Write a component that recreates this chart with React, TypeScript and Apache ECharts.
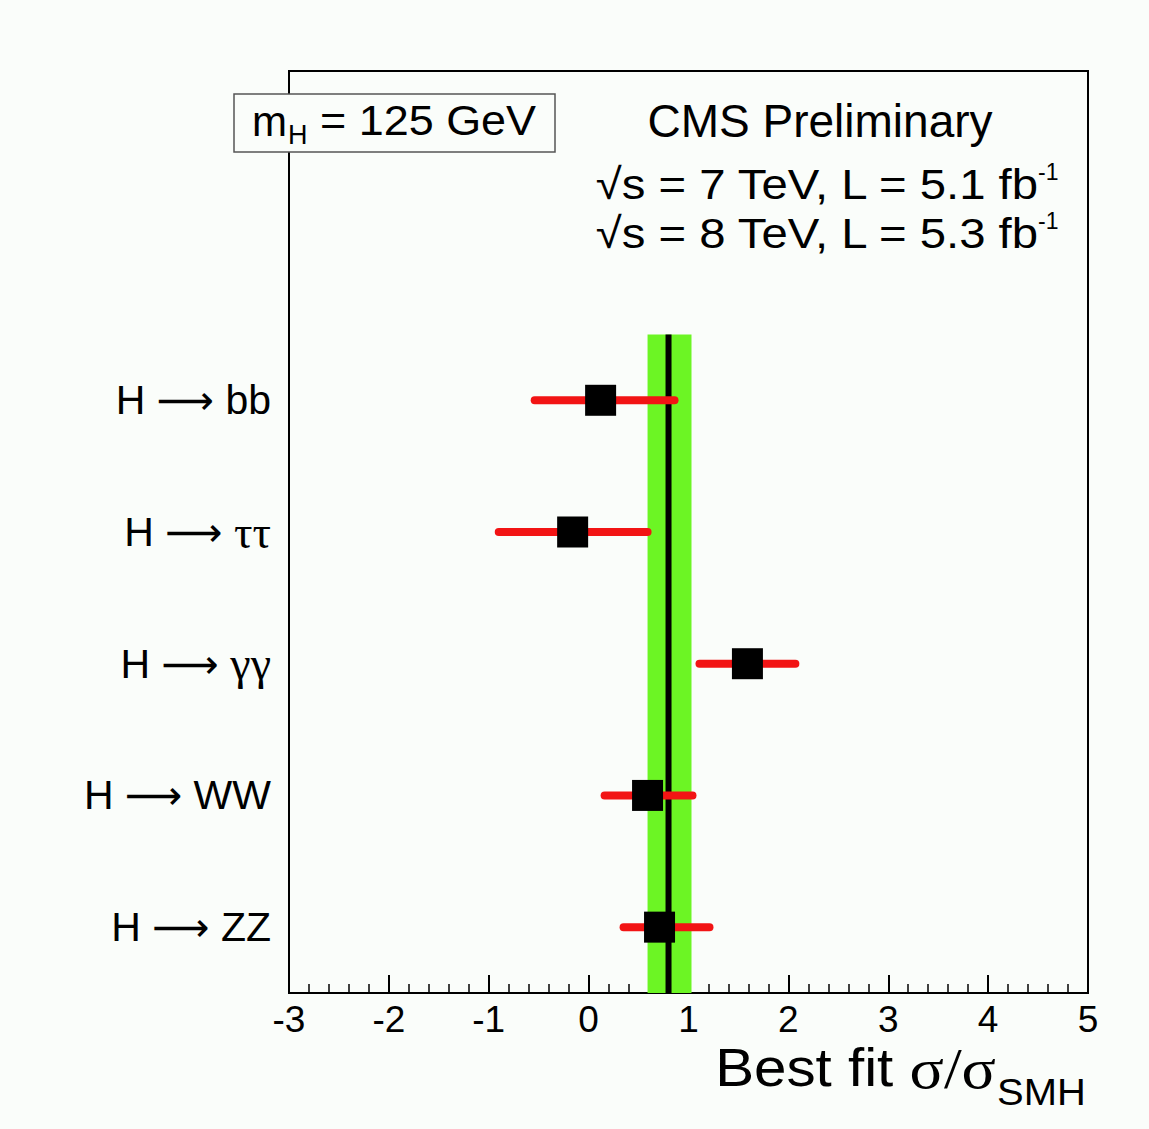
import React, { useEffect, useRef } from "react";
import * as echarts from "echarts";

// ---- data ----
const channels = ["H → ZZ", "H → WW", "H → γγ", "H → ττ", "H → bb", "", ""];
const bestFit = [0.71, 0.59, 1.59, -0.16, 0.12];
const errLow = [0.35, 0.16, 1.11, -0.9, -0.54];
const errHigh = [1.21, 1.04, 2.07, 0.59, 0.86];
const combined = 0.8;
const combinedLow = 0.59;
const combinedHigh = 1.03;
const xMin = -3;
const xMax = 5;

const BG = "#fafdfa";
const SANS = '"Liberation Sans", Arial, Helvetica, sans-serif';
const SERIF = '"Liberation Serif", "Times New Roman", serif';
const ARROWFONT = '"DejaVu Sans", "Liberation Sans", sans-serif';

export default function App() {
  const ref = useRef<HTMLDivElement>(null);

  useEffect(() => {
    if (!ref.current) return;
    const chart = echarts.init(ref.current, null, { renderer: "svg" });

    const nChan = bestFit.length;
    const barData = bestFit.map((_, i) => [errLow[i], i, errHigh[i]]);
    const pointData = bestFit.map((v, i) => [v, i]);

    const option: any = {
      animation: false,
      backgroundColor: BG,
      grid: {
        left: 289,
        top: 71,
        right: 1149 - 1088,
        bottom: 1129 - 993,
        show: true,
        borderColor: "#000",
        borderWidth: 2,
        backgroundColor: BG,
      },
      xAxis: {
        type: "value",
        min: xMin,
        max: xMax,
        interval: 1,
        axisLine: { show: true, lineStyle: { color: "#000", width: 2 } },
        axisTick: { show: true, inside: true, length: 18, lineStyle: { color: "#000", width: 2 } },
        minorTick: { show: true, splitNumber: 5, length: 9, lineStyle: { color: "#000", width: 1.5 } },
        splitLine: { show: false },
        axisLabel: { color: "#000", fontSize: 37, fontFamily: SANS, margin: 12, lineHeight: 28 },
      },
      yAxis: {
        type: "category",
        data: channels,
        axisLine: { show: false },
        axisTick: { show: false },
        splitLine: { show: false },
        axisLabel: {
          color: "#000",
          fontSize: 41,
          fontFamily: SANS,
          margin: 18,
          formatter: (v: string) => {
            if (!v) return "";
            const parts = v.split(" → ");
            const tail = parts[1];
            const tailStyle = /[γτ]/.test(tail) ? "g" : "n";
            return "{n|" + parts[0] + " }{r|⟶}{" + tailStyle + "| " + tail + "}";
          },
          rich: {
            n: { fontSize: 41, fontFamily: SANS, color: "#000" },
            r: { fontSize: 40, fontFamily: ARROWFONT, color: "#000" },
            g: { fontSize: 46, fontFamily: SERIF, color: "#000" },
          },
        },
      },
      series: [
        {
          type: "custom",
          name: "band",
          z: 1,
          silent: true,
          data: [[combinedLow, nChan - 1, combinedHigh, combined]],
          renderItem: (params: any, api: any) => {
            const lo = api.coord([api.value(0), api.value(1)]);
            const hi = api.coord([api.value(2), api.value(1)]);
            const c = api.coord([api.value(3), api.value(1)]);
            const bandH = api.size([0, 1])[1];
            const top = lo[1] - bandH / 2;
            const bottom = params.coordSys.y + params.coordSys.height;
            return {
              type: "group",
              children: [
                {
                  type: "rect",
                  shape: { x: lo[0], y: top, width: hi[0] - lo[0], height: bottom - top },
                  style: { fill: "#6cf524" },
                },
                {
                  type: "line",
                  shape: { x1: c[0], y1: top, x2: c[0], y2: bottom },
                  style: { stroke: "#000", lineWidth: 6 },
                },
              ],
            };
          },
        },
        {
          type: "custom",
          name: "errors",
          z: 3,
          silent: true,
          data: barData,
          renderItem: (params: any, api: any) => {
            const a = api.coord([api.value(0), api.value(1)]);
            const b = api.coord([api.value(2), api.value(1)]);
            return {
              type: "line",
              shape: { x1: a[0], y1: a[1], x2: b[0], y2: b[1] },
              style: { stroke: "#f21414", lineWidth: 8, lineCap: "round" },
            };
          },
        },
        {
          type: "scatter",
          name: "best fit",
          z: 4,
          symbol: "rect",
          symbolSize: 31,
          itemStyle: { color: "#000", opacity: 1 },
          data: pointData,
        },
      ],
      graphic: [
        {
          type: "rect",
          z: 100,
          shape: { x: 234, y: 94, width: 321, height: 58 },
          style: { fill: BG, stroke: "#555", lineWidth: 1.5 },
        },
        {
          type: "text",
          z: 101,
          x: 252,
          y: 121,
          style: { text: "m", fontSize: 42, fontFamily: SANS, fill: "#000", align: "left", verticalAlign: "middle" },
        },
        {
          type: "text",
          z: 101,
          x: 288,
          y: 135,
          style: { text: "H", fontSize: 27, fontFamily: SANS, fill: "#000", align: "left", verticalAlign: "middle" },
        },
        {
          type: "text",
          z: 101,
          x: 320,
          y: 121,
          scaleX: 1.07,
          style: { text: "= 125 GeV", fontSize: 42, fontFamily: SANS, fill: "#000", align: "left", verticalAlign: "middle" },
        },
        {
          type: "text",
          z: 101,
          x: 820,
          y: 121,
          style: { text: "CMS Preliminary", fontSize: 46, fontFamily: SANS, fill: "#000", align: "center", verticalAlign: "middle" },
        },
        {
          type: "text",
          z: 101,
          x: 1038,
          y: 184,
          scaleX: 1.1,
          style: { text: "√s = 7 TeV, L = 5.1 fb", fontSize: 43, fontFamily: SANS, fill: "#000", align: "right", verticalAlign: "middle" },
        },
        {
          type: "text",
          z: 101,
          x: 1038,
          y: 172,
          style: { text: "-1", fontSize: 23, fontFamily: SANS, fill: "#000", align: "left", verticalAlign: "middle" },
        },
        {
          type: "text",
          z: 101,
          x: 1038,
          y: 233,
          scaleX: 1.1,
          style: { text: "√s = 8 TeV, L = 5.3 fb", fontSize: 43, fontFamily: SANS, fill: "#000", align: "right", verticalAlign: "middle" },
        },
        {
          type: "text",
          z: 101,
          x: 1038,
          y: 221,
          style: { text: "-1", fontSize: 23, fontFamily: SANS, fill: "#000", align: "left", verticalAlign: "middle" },
        },
        {
          type: "text",
          z: 101,
          x: 996,
          y: 1068,
          scaleX: 1.1,
          style: {
            text: "{a|Best fit }{g|σ/σ}",
            align: "right",
            verticalAlign: "middle",
            rich: {
              a: { fontSize: 53, fontFamily: SANS, fill: "#000", color: "#000" },
              g: { fontSize: 58, fontFamily: SERIF, fill: "#000", color: "#000" },
            },
          },
        },
        {
          type: "text",
          z: 101,
          x: 997,
          y: 1092,
          scaleX: 1.08,
          style: { text: "SMH", fontSize: 37, fontFamily: SANS, fill: "#000", align: "left", verticalAlign: "middle" },
        },
      ],
    };

    chart.setOption(option);
    return () => chart.dispose();
  }, []);

  return (
    <div
      ref={ref}
      style={{ position: "fixed", left: 0, top: 0, width: 1149, height: 1129, background: BG }}
    />
  );
}
